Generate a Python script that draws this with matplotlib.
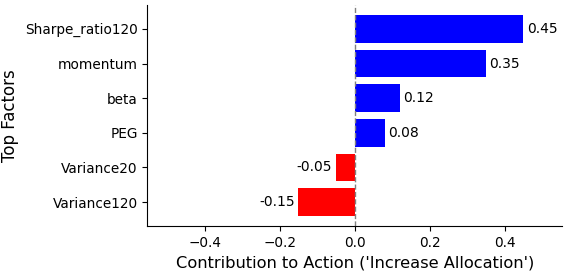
import matplotlib.pyplot as plt

factors = ["Sharpe_ratio120", "momentum", "beta", "PEG", "Variance20", "Variance120"]
contrib = [0.45, 0.35, 0.12, 0.08, -0.05, -0.15]

# plot bottom-up so the first factor sits on top
factors_r = factors[::-1]
contrib_r = contrib[::-1]
colors = ["blue" if v > 0 else "red" for v in contrib_r]

fig, ax = plt.subplots(figsize=(5.67, 2.74), dpi=100)
ax.barh(factors_r, contrib_r, color=colors)
ax.axvline(0, color="gray", linestyle="--", linewidth=1)

for i, v in enumerate(contrib_r):
    if v > 0:
        ax.text(v + 0.01, i, f"{v:.2f}", va="center", ha="left", fontsize=10)
    else:
        ax.text(v - 0.01, i, f"{v:.2f}", va="center", ha="right", fontsize=10)

ax.set_xlim(-0.553, 0.553)
ax.set_xlabel("Contribution to Action ('Increase Allocation')", fontsize=11.7)
ax.set_ylabel("Top Factors", fontsize=12)
ax.tick_params(labelsize=9.8)
ax.spines["top"].set_visible(False)
ax.spines["right"].set_visible(False)

fig.subplots_adjust(left=0.26, right=0.991, top=0.982, bottom=0.175)
fig.savefig("out.png")
